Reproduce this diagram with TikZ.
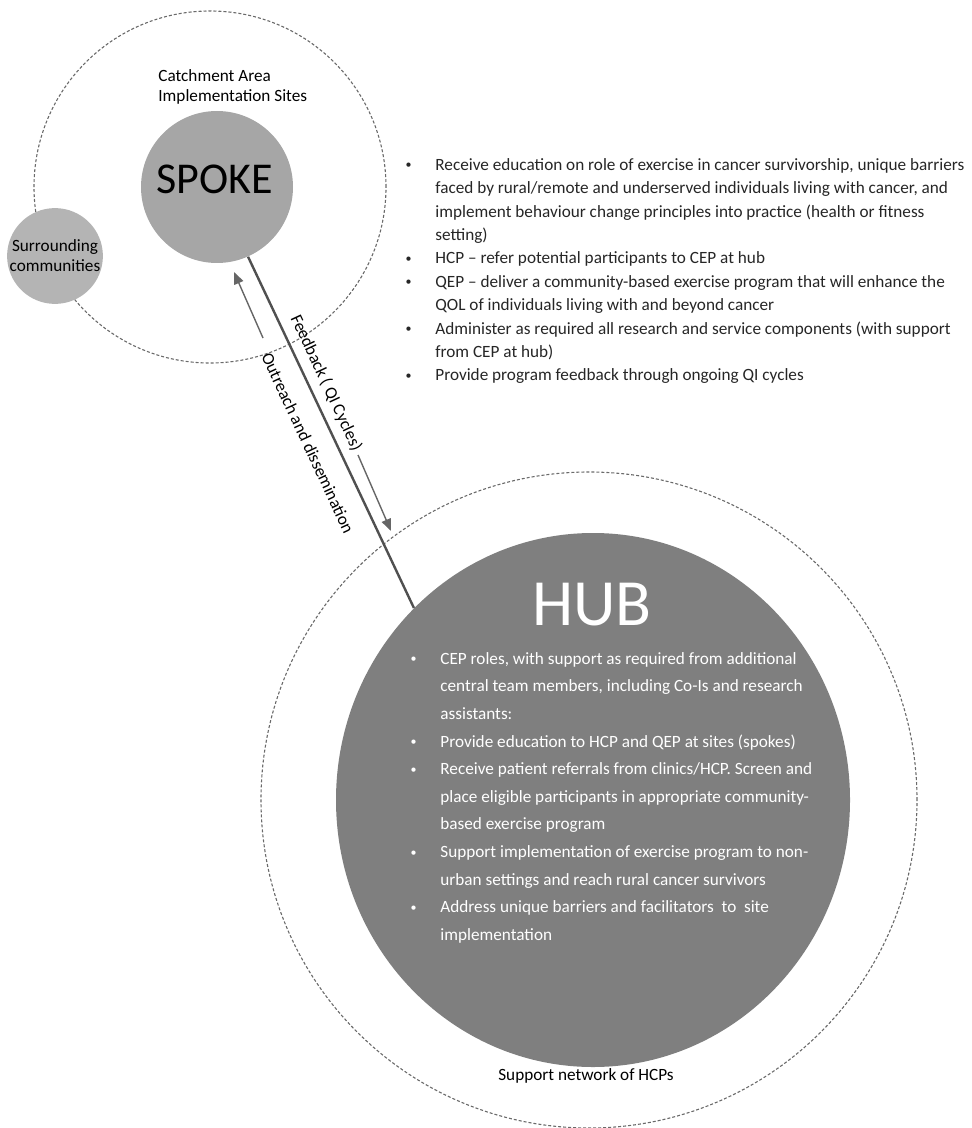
\documentclass[tikz,border=0pt]{standalone}
\usepackage{fontspec}
\setmainfont{Carlito}
\usetikzlibrary{arrows.meta,shapes.geometric}

\definecolor{spokegray}{HTML}{A6A6A6}
\definecolor{towngray}{HTML}{B4B4B4}
\definecolor{hubgray}{HTML}{7F7F7F}
\definecolor{ringgray}{HTML}{6A6A6A}
\definecolor{linegray}{HTML}{505050}
\definecolor{arrowgray}{HTML}{666666}
\definecolor{textgray}{HTML}{262626}

\tikzset{
	ring/.style={circle, draw=ringgray, line width=0.55pt, dash pattern=on 1.5pt off 1pt, inner sep=0pt},
	blob/.style={circle, inner sep=0pt},
	flow/.style={draw=arrowgray, line width=0.7pt, -{Triangle[length=6pt,width=4.8pt]}},
	body/.style={font=\fontsize{8.6pt}{10pt}\selectfont, text=textgray, inner sep=0pt},
}
% small list dot, and the indent of a wrapped line
\newcommand{\dotitem}{\makebox[15.5pt][l]{\hspace{0.6pt}\raisebox{0.7pt}{\fontsize{6pt}{6pt}\selectfont\textbullet}}}
\newcommand{\contitem}{\hspace*{15.5pt}}

\begin{document}
\begin{tikzpicture}[x=0.5pt, y=-0.5pt]
	\useasboundingbox (0,0) rectangle (972,1128);

	% spoke side
	\node[ring, minimum size=176pt] (area) at (210,187) {};
	\node[blob, fill=spokegray, minimum size=76pt] (spoke) at (217,187) {};
	\node[blob, fill=towngray, minimum size=46pt, body, text=black, align=center] (towns) at (55,256) {Surrounding\\communities};
	\node[anchor=base, text=black, font=\fontsize{22pt}{22pt}\selectfont] (spoketxt) at (215,194) {SPOKE};
	\node[body, text=black, align=left, anchor=north west] (sites) at (158,69) {Catchment Area\\Implementation Sites};

	\node[body, align=left, anchor=north west, font=\fontsize{8.6pt}{11.7pt}\selectfont] (spokeroles) at (404,158) {%
		\dotitem Receive education on role of exercise in cancer survivorship, unique barriers\\
		\contitem faced by rural/remote and underserved individuals living with cancer, and\\
		\contitem implement behaviour change principles into practice (health or fitness\\
		\contitem setting)\\
		\dotitem HCP -- refer potential participants to CEP at hub\\
		\dotitem QEP -- deliver a community-based exercise program that will enhance the\\
		\contitem QOL of individuals living with and beyond cancer\\
		\dotitem Administer as required all research and service components (with support\\
		\contitem from CEP at hub)\\
		\dotitem Provide program feedback through ongoing QI cycles};

	% hub side
	\node[ring, minimum size=328pt] (network) at (589,800) {};
	\node[ellipse, fill=hubgray, inner sep=0pt, minimum width=257pt, minimum height=267pt] (hub) at (593,800) {};
	\node[anchor=base, text=white, font=\fontsize{33pt}{33pt}\selectfont] (hubtxt) at (592,625) {HUB};

	\node[body, text=white, align=left, anchor=north west, font=\fontsize{8.6pt}{13.8pt}\selectfont] (hubroles) at (409,652) {%
		\dotitem CEP roles, with support as required from additional\\
		\contitem central team members, including Co-Is and research\\
		\contitem assistants:\\
		\dotitem Provide education to HCP and QEP at sites (spokes)\\
		\dotitem Receive patient referrals from clinics/HCP. Screen and\\
		\contitem place eligible participants in appropriate community-\\
		\contitem based exercise program\\
		\dotitem Support implementation of exercise program to non-\\
		\contitem urban settings and reach rural cancer survivors\\
		\dotitem Address unique barriers and facilitators\ \ to\ \ site\\
		\contitem implementation};

	\node[body, text=black] (nettxt) at (586,1076) {Support network of HCPs};

	% link between the two
	\draw[draw=linegray, line width=1.2pt] (spoke.-66) -- (hub.133.6);

	\node[body, text=black, rotate=-65] (fbtxt) at (326,383) {Feedback ( QI Cycles)};
	\node[body, text=black, rotate=-65] (outtxt) at (308,443) {Outreach and dissemination};

	\coordinate (outtail) at (263,338);
	\coordinate (outtip) at (234,272);
	\draw[flow] (outtail) -- (outtip);

	\coordinate (fbtail) at (358,455);
	\coordinate (fbtip) at (391,531);
	\draw[flow] (fbtail) -- (fbtip);
\end{tikzpicture}
\end{document}
